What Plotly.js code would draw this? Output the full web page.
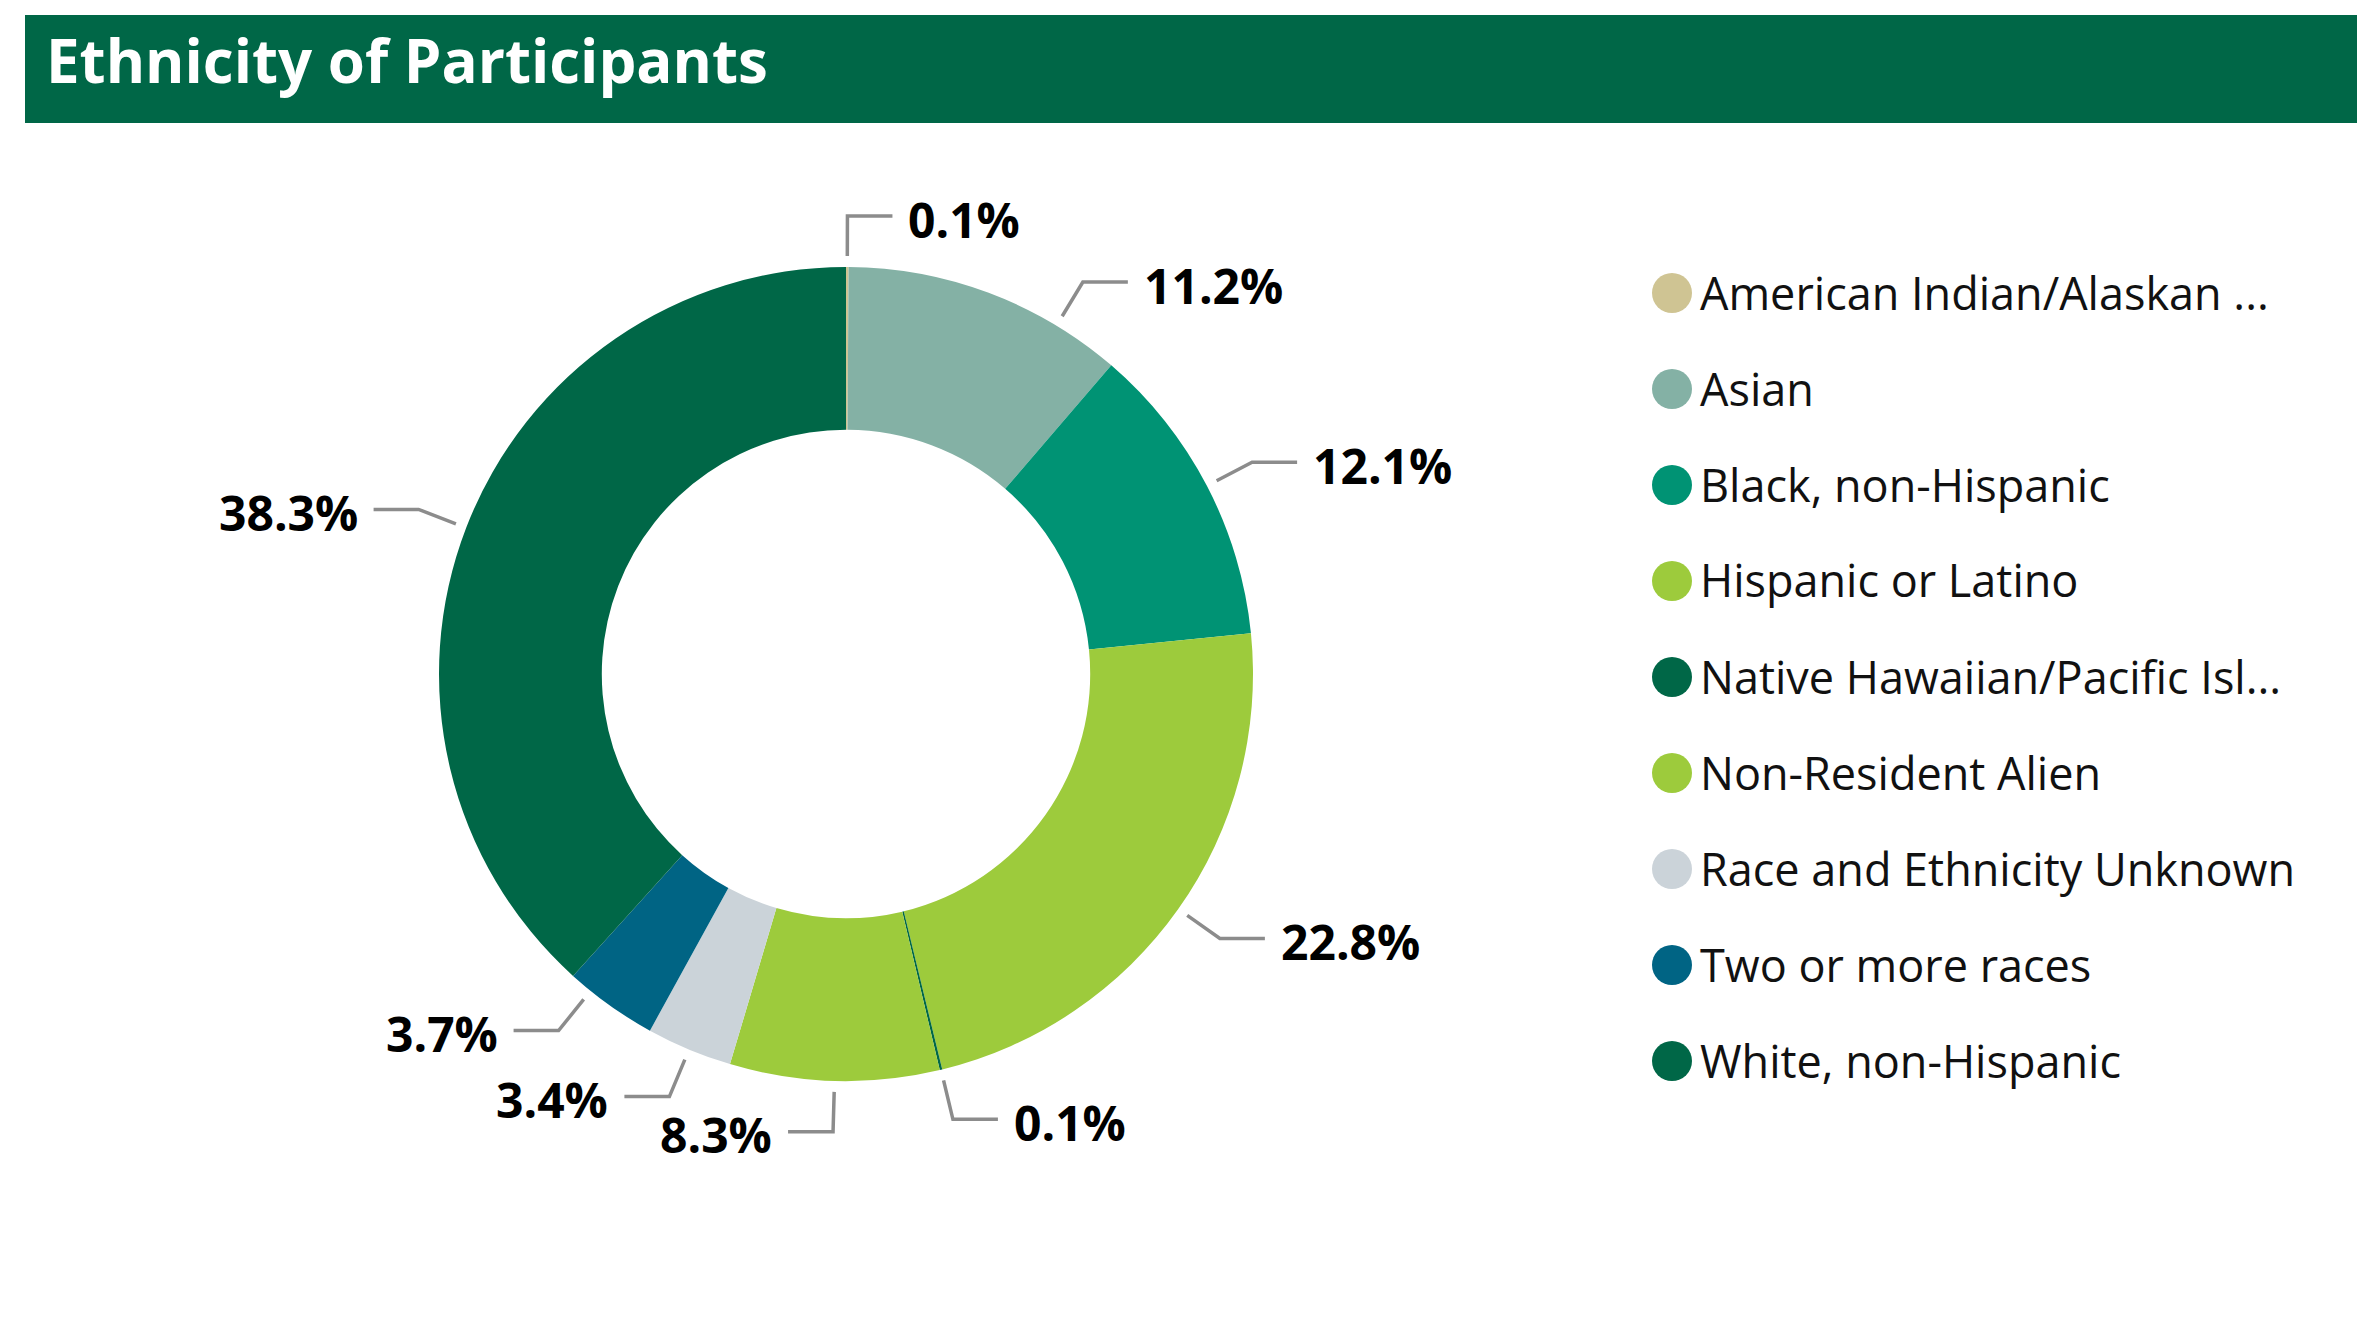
<!DOCTYPE html>
<html>
<head>
<meta charset="utf-8">
<script src="https://cdn.plot.ly/plotly-3.0.1.min.js"></script>
<style>
html,body{margin:0;padding:0;background:#fff;}
#chart{width:2357px;height:1323px;}
</style>
</head>
<body>
<div id="chart"></div>
<script>
// ---- data ----
var categories = [
  "American Indian/Alaskan Native",
  "Asian",
  "Black, non-Hispanic",
  "Hispanic or Latino",
  "Native Hawaiian/Pacific Islander",
  "Non-Resident Alien",
  "Race and Ethnicity Unknown",
  "Two or more races",
  "White, non-Hispanic"
];
var legendLabels = [
  "American Indian/Alaskan ...",
  "Asian",
  "Black, non-Hispanic",
  "Hispanic or Latino",
  "Native Hawaiian/Pacific Isl...",
  "Non-Resident Alien",
  "Race and Ethnicity Unknown",
  "Two or more races",
  "White, non-Hispanic"
];
var percents = [0.1, 11.2, 12.1, 22.8, 0.1, 8.3, 3.4, 3.7, 38.3];
var colors = ["#CFC493", "#84B1A5", "#009374", "#9DCB3C", "#006747", "#9DCB3C", "#CBD3D9", "#006484", "#006747"];
var chartTitle = "Ethnicity of Participants";

// ---- layout constants (pixels) ----
var W = 2357, H = 1323;
var CX = 846, CY = 674, R = 407;
var FONT = "Open Sans, Noto Sans, sans-serif";
var LABEL_FS = 48;
function px(x){ return x / W; }
function py(y){ return 1 - y / H; }

var shapes = [];
var annotations = [];

// title band
shapes.push({type:"rect", xref:"paper", yref:"paper", x0:px(25), x1:1, y0:py(123), y1:py(15),
  fillcolor:"#006747", line:{width:0}, layer:"below"});
annotations.push({text:"<b>"+chartTitle+"</b>", xref:"paper", yref:"paper", x:px(44), y:py(60),
  xanchor:"left", yanchor:"middle", showarrow:false, font:{family:FONT, size:60, color:"#ffffff"}});

// ---- leader lines + percentage labels computed from data ----
var total = percents.reduce(function(a,b){return a+b;},0);
var r1 = R + 11, r2 = R + 51, hLen = 45, gap = 14;
var textHalf = 25, pad = 6, minSep = 66, textOffset = 3;

function fmt(v){ return v.toFixed(1) + "%"; }
function makeLabel(theta, v){
  var s = Math.sin(theta), c = Math.cos(theta);
  var dir = s >= -1e-9 ? 1 : -1;
  var L = {theta:theta, v:v, dir:dir,
    x1: CX + r1*s, y1: CY - r1*c,
    x2: CX + r2*s, y2: CY - r2*c};
  L.x3 = L.x2 + dir*hLen;
  var tw = fmt(v).length * 0.56 * LABEL_FS;
  var tx = L.x3 + dir*gap;
  L.tx0 = dir>0 ? tx : tx - tw;
  L.tx1 = dir>0 ? tx + tw : tx;
  L.ty = L.y2 + textOffset;
  return L;
}
function hOverlap(a0,a1,b0,b1){ return Math.min(a1,b1) > Math.max(a0,b0); }
function boxHitsLine(A, B){ // text box of A vs horizontal segment of B
  var lx0 = Math.min(B.x2,B.x3), lx1 = Math.max(B.x2,B.x3);
  return hOverlap(A.tx0, A.tx1, lx0, lx1) &&
         B.y2 > A.ty - textHalf - pad && B.y2 < A.ty + textHalf + pad;
}
function collide(A, B){
  var boxes = hOverlap(A.tx0, A.tx1, B.tx0, B.tx1) &&
              Math.abs(A.ty - B.ty) < 2*textHalf + pad;
  return boxes || boxHitsLine(A,B) || boxHitsLine(B,A);
}

var labels = [];
var cum = 0;
percents.forEach(function(v){
  var m = (cum + v/2) / total;
  cum += v;
  labels.push(makeLabel(m * 2 * Math.PI, v));
});

// resolve overlaps: right side top-down, left side bottom-up
function resolve(side){
  var list = labels.filter(function(L){ return L.dir === side; });
  list.sort(function(a,b){ return side>0 ? a.y2 - b.y2 : b.y2 - a.y2; });
  var placed = [];
  list.forEach(function(L){
    var cur = L;
    placed.forEach(function(P){
      if (collide(cur, P)) {
        var ny = P.y2 + side*minSep;
        var cc = Math.max(-1, Math.min(1, (CY - ny)/r2));
        var th = Math.acos(cc);
        if (side < 0) th = 2*Math.PI - th;
        var nl = makeLabel(th, cur.v);
        for (var k in nl) cur[k] = nl[k];
      }
    });
    placed.push(cur);
  });
}
resolve(1); resolve(-1);

labels.forEach(function(L){
  shapes.push({type:"path", xref:"paper", yref:"paper",
    path:"M "+px(L.x1)+" "+py(L.y1)+" L "+px(L.x2)+" "+py(L.y2)+" L "+px(L.x3)+" "+py(L.y2),
    line:{color:"#8c8c8c", width:3.5}});
  annotations.push({text:"<b>"+fmt(L.v)+"</b>", xref:"paper", yref:"paper",
    x:px(L.x3 + L.dir*gap), y:py(L.ty), xanchor: L.dir>0 ? "left" : "right", yanchor:"middle",
    showarrow:false, font:{family:FONT, size:LABEL_FS, color:"#000000"}});
});

// custom legend with circular markers
legendLabels.forEach(function(lbl, i){
  var yc = 293 + i*96;
  shapes.push({type:"circle", xref:"paper", yref:"paper",
    x0:px(1652), x1:px(1692), y0:py(yc+20), y1:py(yc-20),
    fillcolor:colors[i], line:{width:0}});
  annotations.push({text:lbl, xref:"paper", yref:"paper", x:px(1698), y:py(yc-1),
    xanchor:"left", yanchor:"middle", showarrow:false, font:{family:FONT, size:45, color:"#111111"}});
});

var trace = {
  type:"pie",
  labels:categories,
  values:percents,
  marker:{colors:colors, line:{width:0}},
  hole:0.6,
  sort:false,
  direction:"clockwise",
  rotation:0,
  textinfo:"none",
  hoverinfo:"label+percent",
  showlegend:false,
  domain:{x:[px(CX-R), px(CX+R)], y:[py(CY+R), py(CY-R)]}
};

var layout = {
  width:W, height:H,
  margin:{l:0, r:0, t:0, b:0},
  paper_bgcolor:"#ffffff",
  showlegend:false,
  shapes:shapes,
  annotations:annotations,
  font:{family:FONT}
};

Plotly.newPlot("chart", [trace], layout, {displayModeBar:false, staticPlot:true});
</script>
</body>
</html>
